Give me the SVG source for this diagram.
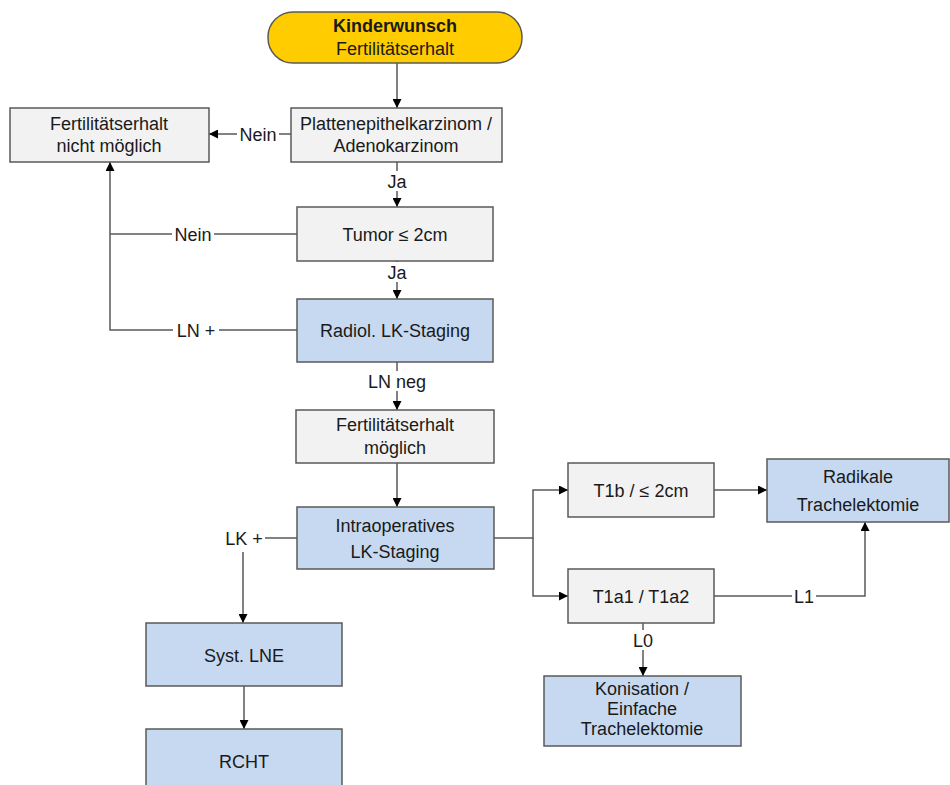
<svg xmlns="http://www.w3.org/2000/svg" width="950" height="785" viewBox="0 0 950 785">
<style>
text{font-family:"Liberation Sans",Arial,sans-serif;font-size:18px;fill:#1a1a1a;text-anchor:middle}
.g{fill:#f2f2f2;stroke:#595959;stroke-width:1.5}
.b{fill:#c6d9f0;stroke:#595959;stroke-width:1.5}
.c{fill:none;stroke:#595959;stroke-width:1.5}
.lb{fill:#ffffff}
</style>
<defs>
<marker id="a" viewBox="0 0 10 10" refX="10" refY="5" markerWidth="9" markerHeight="9" markerUnits="userSpaceOnUse" orient="auto">
<path d="M0,0 L10,5 L0,10 z" fill="#000"/>
</marker>
</defs>
<rect width="950" height="785" fill="#ffffff"/>
<g id="connectors">
<path class="c" d="M397,63 V108" marker-end="url(#a)"/>
<path class="c" d="M291,134 H209" marker-end="url(#a)"/>
<path class="c" d="M397,162 V207" marker-end="url(#a)"/>
<path class="c" d="M297,234 H110"/>
<path class="c" d="M297,330 H110 V162" marker-end="url(#a)"/>
<path class="c" d="M397,261 V299" marker-end="url(#a)"/>
<path class="c" d="M397,362 V410" marker-end="url(#a)"/>
<path class="c" d="M397,463 V507" marker-end="url(#a)"/>
<path class="c" d="M297,538 H265"/>
<path class="c" d="M243,552 V623" marker-end="url(#a)"/>
<path class="c" d="M244,686 V729" marker-end="url(#a)"/>
<path class="c" d="M494,538 H533 V490 H568" marker-end="url(#a)"/>
<path class="c" d="M533,538 V596 H568" marker-end="url(#a)"/>
<path class="c" d="M714,490 H767" marker-end="url(#a)"/>
<path class="c" d="M714,596 H865 V522" marker-end="url(#a)"/>
<path class="c" d="M643,623 V676" marker-end="url(#a)"/>
<rect class="lb" x="237" y="124" width="42" height="20"/>
<text x="258" y="141">Nein</text>
<rect class="lb" x="386" y="171" width="22" height="20"/>
<text x="397" y="188">Ja</text>
<rect class="lb" x="172" y="224" width="42" height="20"/>
<text x="193" y="241">Nein</text>
<rect class="lb" x="386" y="262" width="22" height="20"/>
<text x="397" y="279">Ja</text>
<rect class="lb" x="173" y="320" width="46" height="20"/>
<text x="196" y="337">LN +</text>
<rect class="lb" x="363" y="371" width="68" height="20"/>
<text x="397" y="388">LN neg</text>
<text x="244" y="545">LK +</text>
<rect class="lb" x="792" y="586" width="24" height="20"/>
<text x="804" y="603">L1</text>
<rect class="lb" x="631" y="630" width="24" height="20"/>
<text x="643" y="647">L0</text>
</g>
<g id="start">
<rect x="268" y="12" width="254" height="51" rx="25" ry="25" fill="#ffcc00" stroke="#595959" stroke-width="1.5"/>
<text x="395" y="32" font-weight="bold">Kinderwunsch</text>
<text x="395" y="55">Fertilitätserhalt</text>
</g>
<g id="histologie">
<rect class="g" x="291" y="108" width="211" height="54"/>
<text x="396" y="130">Plattenepithelkarzinom /</text>
<text x="396" y="152">Adenokarzinom</text>
</g>
<g id="nicht-moeglich">
<rect class="g" x="10" y="108" width="199" height="54"/>
<text x="109" y="130">Fertilitätserhalt</text>
<text x="109" y="152">nicht möglich</text>
</g>
<g id="tumor">
<rect class="g" x="297" y="207" width="196" height="54"/>
<text x="395" y="241">Tumor ≤ 2cm</text>
</g>
<g id="radiol">
<rect class="b" x="297" y="299" width="196" height="63"/>
<text x="395" y="337">Radiol. LK-Staging</text>
</g>
<g id="moeglich">
<rect class="g" x="296" y="410" width="198" height="53"/>
<text x="395" y="431">Fertilitätserhalt</text>
<text x="395" y="454">möglich</text>
</g>
<g id="intraop">
<rect class="b" x="297" y="507" width="197" height="62"/>
<text x="395" y="532">Intraoperatives</text>
<text x="395" y="558">LK-Staging</text>
</g>
<g id="syst-lne">
<rect class="b" x="146" y="623" width="196" height="63"/>
<text x="244" y="662">Syst. LNE</text>
</g>
<g id="rcht">
<rect class="b" x="146" y="729" width="196" height="63"/>
<text x="244" y="768">RCHT</text>
</g>
<g id="t1b">
<rect class="g" x="568" y="463" width="146" height="54"/>
<text x="641" y="497">T1b / ≤ 2cm</text>
</g>
<g id="radikale">
<rect class="b" x="767" y="459" width="182" height="63"/>
<text x="858" y="483">Radikale</text>
<text x="858" y="511">Trachelektomie</text>
</g>
<g id="t1a">
<rect class="g" x="568" y="569" width="146" height="54"/>
<text x="641" y="603">T1a1 / T1a2</text>
</g>
<g id="konisation">
<rect class="b" x="544" y="676" width="197" height="70"/>
<text x="642" y="695" font-size="17">Konisation /</text>
<text x="642" y="715" font-size="17">Einfache</text>
<text x="642" y="735" font-size="17">Trachelektomie</text>
</g>
</svg>
